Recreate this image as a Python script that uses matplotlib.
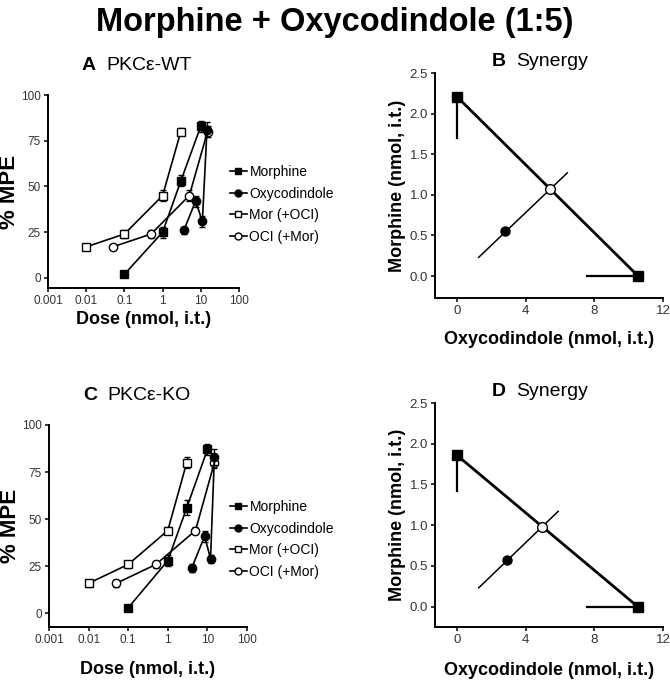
import matplotlib
matplotlib.use("Agg")
import matplotlib.pyplot as plt
from matplotlib.lines import Line2D
import numpy as np

plt.rcParams['font.family'] = ['Liberation Sans', 'DejaVu Sans']

# ---------------- data ----------------
series_names = ["Morphine", "Oxycodindole", "Mor (+OCI)", "OCI (+Mor)"]

# Panel A (PKCe-WT)
wt_mor_x = [0.1, 1, 3, 10]
wt_mor_y = [2, 25, 53, 83]
wt_mor_e = [1, 3, 3, 3]
wt_oci_x = [3.6, 7.3, 11, 14.5]
wt_oci_y = [26, 42, 31, 81]
wt_oci_e = [2, 3, 3, 4]
wt_mc_x = [0.01, 0.1, 1, 3]
wt_mc_y = [17, 24, 45, 80]
wt_mc_e = [1, 2, 3, 2]
wt_om_x = [0.05, 0.5, 5, 15]
wt_om_y = [17, 24, 45, 80]
wt_om_e = [1, 2, 3, 3]

# Panel C (PKCe-KO)
ko_mor_x = [0.1, 1, 3, 10]
ko_mor_y = [3, 28, 56, 87]
ko_mor_e = [1, 3, 4, 3]
ko_oci_x = [4, 8.5, 12, 15]
ko_oci_y = [24, 41, 29, 83]
ko_oci_e = [2, 3, 2, 4]
ko_mc_x = [0.01, 0.1, 1, 3]
ko_mc_y = [16, 26, 44, 80]
ko_mc_e = [2, 2, 2, 3]
ko_om_x = [0.05, 0.5, 5, 15]
ko_om_y = [16, 26, 44, 80]
ko_om_e = [2, 2, 2, 3]

dose_ticks = [0.001, 0.01, 0.1, 1, 10, 100]
dose_ticklabels = ["0.001", "0.01", "0.1", "1", "10", "100"]
mpe_ticks = [0, 25, 50, 75, 100]

# Panel B (Synergy, WT)
b_mor_ed50 = 2.21
b_mor_ci_low = 1.70
b_oci_ed50 = 10.55
b_oci_ci_low = 7.6
b_theo = (5.42, 1.07)
b_exp = (2.82, 0.56)
b_ray_x = [1.27, 6.43]
b_ray_y = [0.23, 1.27]

# Panel D (Synergy, KO)
d_mor_ed50 = 1.86
d_mor_ci_low = 1.42
d_oci_ed50 = 10.53
d_oci_ci_low = 7.55
d_theo = (4.93, 0.98)
d_exp = (2.92, 0.57)
d_ray_x = [1.27, 5.9]
d_ray_y = [0.23, 1.17]

iso_xticks = [0, 4, 8, 12]
iso_yticks = [0.0, 0.5, 1.0, 1.5, 2.0, 2.5]

# ---------------- figure ----------------
W, H = 670, 684
fig = plt.figure(figsize=(W / 100, H / 100), dpi=100)


def px_axes(x0, x1, ytop, ybot):
    return fig.add_axes([x0 / W, 1 - ybot / H, (x1 - x0) / W, (ybot - ytop) / H])


tick_color = '#333333'


def style(ax, lsize=9):
    for s in ['top', 'right']:
        ax.spines[s].set_visible(False)
    for s in ['left', 'bottom']:
        ax.spines[s].set_linewidth(1.4)
    ax.tick_params(direction='out', length=3, width=1.1, labelsize=lsize,
                   labelcolor=tick_color, pad=2)


marker_styles = [dict(marker='s', mfc='black', mec='black'),
                 dict(marker='o', mfc='black', mec='black'),
                 dict(marker='s', mfc='white', mec='black'),
                 dict(marker='o', mfc='white', mec='black')]


def dose_panel(ax, sets, ylim_low):
    style(ax, 8.5)
    ax.set_xscale('log')
    ax.set_xlim(0.001, 100)
    ax.set_ylim(ylim_low, 100)
    ax.set_xticks(dose_ticks)
    ax.set_xticklabels(dose_ticklabels)
    ax.xaxis.set_minor_locator(matplotlib.ticker.NullLocator())
    ax.set_yticks(mpe_ticks)
    for (x, y, e), st, name in zip(sets, marker_styles, series_names):
        ax.errorbar(x, y, yerr=e, color='black', lw=1.2, ms=6,
                    mew=1.0, elinewidth=1.0, capsize=2.5,
                    zorder=3 if st['mfc'] == 'black' else 2, **st)
    ax.set_ylabel('% MPE', fontsize=16, fontweight='bold')
    ax.set_xlabel('Dose (nmol, i.t.)', fontsize=13, fontweight='bold')


def iso_panel(ax, mor_ed50, mor_ci, oci_ed50, oci_ci, theo, exp_, ray_x, ray_y, ylow):
    style(ax, 9.5)
    ax.set_xlim(-1.27, 12)
    ax.set_ylim(ylow, 2.5)
    ax.set_xticks(iso_xticks)
    ax.set_yticks(iso_yticks)
    ax.set_yticklabels([f"{v:.1f}" for v in iso_yticks])
    ax.plot([0, oci_ed50], [mor_ed50, 0], color='black', lw=2.0, zorder=2)
    ax.plot([0, 0], [mor_ci, mor_ed50], color='black', lw=1.6, zorder=2)
    ax.plot([oci_ci, oci_ed50], [0, 0], color='black', lw=1.6, zorder=2)
    ax.plot([0, oci_ed50], [mor_ed50, 0], ls='none', marker='s', ms=6.5,
            mfc='black', mec='black', zorder=4, clip_on=False)
    ax.plot(ray_x, ray_y, color='black', lw=1.1, zorder=3)
    ax.plot([theo[0]], [theo[1]], marker='o', ms=7, mfc='white', mec='black',
            mew=1.0, zorder=5)
    ax.plot([exp_[0]], [exp_[1]], marker='o', ms=6.5, mfc='black', mec='black',
            zorder=5)
    ax.set_ylabel('Morphine (nmol, i.t.)', fontsize=13, fontweight='bold')
    ax.set_xlabel('Oxycodindole (nmol, i.t.)', fontsize=13, fontweight='bold')


def add_legend(ax, x0_px, ax_left, ax_w, ytop_px, axbot, axh):
    handles = [Line2D([0], [0], color='black', lw=1.2, ms=5, mew=1.0, **st)
               for st in marker_styles]
    ax.legend(handles, series_names, loc='upper left', frameon=False, fontsize=10,
              bbox_to_anchor=((x0_px - ax_left) / ax_w, (axbot - ytop_px) / axh),
              borderaxespad=0, borderpad=0, handlelength=1.2,
              handletextpad=0.2, labelspacing=0.55)


# Panel A
axA = px_axes(48, 239, 95, 288)
dose_panel(axA, [(wt_mor_x, wt_mor_y, wt_mor_e), (wt_oci_x, wt_oci_y, wt_oci_e),
                 (wt_mc_x, wt_mc_y, wt_mc_e), (wt_om_x, wt_om_y, wt_om_e)], -5.5)
axA.yaxis.set_label_coords(-0.145, 0.5)
axA.xaxis.set_label_coords(0.5, -0.12)
add_legend(axA, 230, 48, 191, 165, 288, 193)

# Panel C
axC = px_axes(49, 247, 425, 627)
dose_panel(axC, [(ko_mor_x, ko_mor_y, ko_mor_e), (ko_oci_x, ko_oci_y, ko_oci_e),
                 (ko_mc_x, ko_mc_y, ko_mc_e), (ko_om_x, ko_om_y, ko_om_e)], -7.2)
axC.yaxis.set_label_coords(-0.14, 0.5)
axC.xaxis.set_label_coords(0.5, -0.17)
add_legend(axC, 230, 49, 198, 500, 627, 202)

# Panel B
axB = px_axes(435, 663, 73, 298)
iso_panel(axB, b_mor_ed50, b_mor_ci_low, b_oci_ed50, b_oci_ci_low, b_theo, b_exp,
          b_ray_x, b_ray_y, -0.27)
axB.yaxis.set_label_coords(-0.125, 0.5)
axB.xaxis.set_label_coords(0.5, -0.145)

# Panel D
axD = px_axes(435, 663, 403, 627)
iso_panel(axD, d_mor_ed50, d_mor_ci_low, d_oci_ed50, d_oci_ci_low, d_theo, d_exp,
          d_ray_x, d_ray_y, -0.25)
axD.yaxis.set_label_coords(-0.125, 0.5)
axD.xaxis.set_label_coords(0.5, -0.155)

# titles
fig.text(0.5, 1 - 22 / H, 'Morphine + Oxycodindole (1:5)', ha='center', va='center',
         fontsize=23.5, fontweight='bold')


def panel_title(xl, yc, letter, rest):
    fig.text(xl / W, 1 - yc / H, letter, ha='left', va='center',
             fontsize=14, fontweight='bold')
    fig.text((xl + 24) / W, 1 - yc / H, rest, ha='left', va='center', fontsize=14)


panel_title(82, 65, 'A', 'PKCε-WT')
panel_title(492, 62, 'B', 'Synergy')
panel_title(83, 396, 'C', 'PKCε-KO')
panel_title(492, 392, 'D', 'Synergy')

fig.savefig('out.png', dpi=100)
